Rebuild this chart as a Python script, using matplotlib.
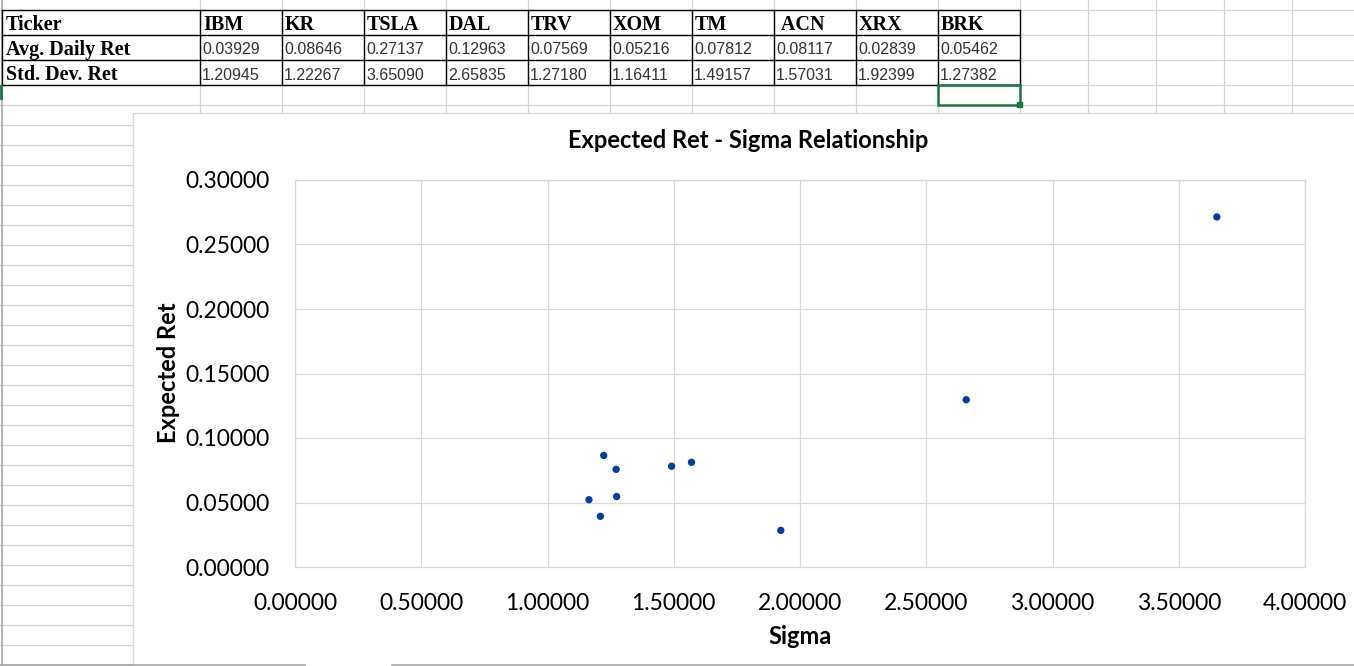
import numpy as np
import matplotlib.pyplot as plt
from matplotlib.patches import Rectangle
from matplotlib.ticker import MultipleLocator, FormatStrFormatter

# DATA
tickers = ["IBM", "KR", "TSLA", "DAL", "TRV", "XOM", "TM", " ACN", "XRX", "BRK"]
avg_ret = [0.03929, 0.08646, 0.27137, 0.12963, 0.07569, 0.05216, 0.07812, 0.08117, 0.02839, 0.05462]
std_ret = [1.20945, 1.22267, 3.65090, 2.65835, 1.27180, 1.16411, 1.49157, 1.57031, 1.92399, 1.27382]
row_names = ["Ticker", "Avg. Daily Ret", "Std. Dev. Ret"]

W, H = 1354, 666
fig = plt.figure(figsize=(W / 100, H / 100), dpi=100)

# spreadsheet background, pixel coordinates
bg = fig.add_axes([0, 0, 1, 1])
bg.set_xlim(0, W)
bg.set_ylim(H, 0)
bg.axis("off")

grid_c = "#d4d4d4"
col_x = [2, 200, 282, 364, 446, 528, 610, 692, 774, 856, 938, 1020, 1088, 1156, 1224, 1292]
row_y = [10, 35, 60, 85] + list(range(105, 666, 20))

for x in col_x[1:]:
    bg.plot([x, x], [0, H], color=grid_c, lw=0.9, zorder=1)
for y in row_y:
    bg.plot([0, W], [y, y], color=grid_c, lw=0.9, zorder=1)
bg.plot([2, 2], [0, H], color="#a6a6a6", lw=1.2, zorder=1)

# table borders
tab_x = col_x[:12]
for y in [10, 35, 60, 85]:
    bg.plot([tab_x[0], tab_x[-1]], [y, y], color="black", lw=1, zorder=2)
for x in tab_x:
    bg.plot([x, x], [10, 85], color="black", lw=1, zorder=2)

# table text
row_mid = [24.5, 49.5, 74.5]
for r, name in enumerate(row_names):
    bg.text(6, row_mid[r], name, family="Liberation Serif", weight="bold",
            fontsize=14.5, ha="left", va="center", zorder=3)
for i, t in enumerate(tickers):
    x0 = tab_x[i + 1] + 3
    bg.text(x0, row_mid[0], t, family="Liberation Serif", weight="bold",
            fontsize=14.5, ha="left", va="center", zorder=3)
    bg.text(x0 - 1, row_mid[1] + 0.5, f"{avg_ret[i]:.5f}", family="Liberation Sans",
            fontsize=11.5, color="#333333", ha="left", va="center", zorder=3)
    bg.text(x0 - 1, row_mid[2] + 0.5, f"{std_ret[i]:.5f}", family="Liberation Sans",
            fontsize=11.5, color="#333333", ha="left", va="center", zorder=3)

# selected cell
bg.add_patch(Rectangle((938, 85), 82, 20, fill=False, edgecolor="#217346", lw=1.8, zorder=4))
bg.add_patch(Rectangle((1017, 102), 5, 5, color="#217346", zorder=5))
bg.plot([1, 1], [86, 98], color="#217346", lw=2, zorder=4)

# chart area
bg.add_patch(Rectangle((133, 113), W - 133 + 5, H - 113 + 5, facecolor="white",
                       edgecolor="#d9d9d9", lw=1, zorder=6))
bg.plot([0, 305], [665, 665], color="#a6a6a6", lw=1.2, zorder=7)
bg.plot([392, W], [665, 665], color="#a6a6a6", lw=1.2, zorder=7)

bg.text(748, 140, "Expected Ret - Sigma Relationship", family="Lato", weight="bold",
        fontsize=17, ha="center", va="center", zorder=8)
bg.text(168, 373, "Expected Ret", family="Lato", weight="bold", rotation=90,
        fontsize=17, ha="center", va="center", zorder=8)
bg.text(800, 636, "Sigma", family="Lato", weight="bold",
        fontsize=17, ha="center", va="center", zorder=8)

# plot area
L, R, T, B = 295, 1305, 180, 567
ax = fig.add_axes([L / W, (H - B) / H, (R - L) / W, (B - T) / H])
ax.set_facecolor("none")
ax.scatter(std_ret, avg_ret, s=28, color="#0b3d91", edgecolors="none", zorder=3)

ax.set_xlim(0, 4)
ax.set_ylim(0, 0.3)
ax.xaxis.set_major_locator(MultipleLocator(0.5))
ax.yaxis.set_major_locator(MultipleLocator(0.05))
ax.xaxis.set_major_formatter(FormatStrFormatter("%.5f"))
ax.yaxis.set_major_formatter(FormatStrFormatter("%.5f"))
ax.grid(True, color="#d9d9d9", lw=0.9)
ax.set_axisbelow(True)
for s in ax.spines.values():
    s.set_color("#d9d9d9")
    s.set_linewidth(0.9)
ax.tick_params(length=0, labelsize=16.5)
ax.tick_params(axis="y", pad=18)
ax.tick_params(axis="x", pad=19)
for lab in ax.get_xticklabels() + ax.get_yticklabels():
    lab.set_family("Lato")

fig.savefig("out.png", dpi=100)
